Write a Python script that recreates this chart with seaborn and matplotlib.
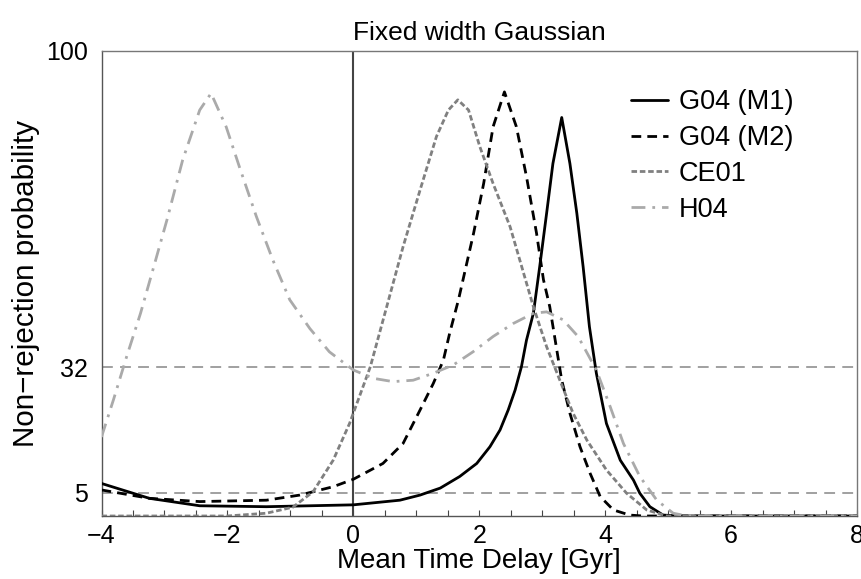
import numpy as np
import pandas as pd
import matplotlib
matplotlib.use("Agg")
import matplotlib.pyplot as plt
import seaborn as sns

# ---- data ----
m1_x = [-4.0, -3.24, -2.44, -1.38, 0.0, 0.74, 1.06, 1.38, 1.69, 1.96, 2.17, 2.33, 2.46, 2.57,
        2.67, 2.75, 2.86, 2.96, 3.07, 3.17, 3.31, 3.44, 3.55, 3.65, 3.75, 3.86, 4.02, 4.24,
        4.45, 4.55, 4.71, 4.92, 5.2, 8.0]
m1_y = [7.0, 3.8, 2.2, 2.0, 2.4, 3.4, 4.5, 6.0, 8.5, 11.3, 14.9, 18.5, 22.8, 27.1,
        32.1, 37.8, 43.6, 53.6, 65.1, 75.8, 85.7, 75.8, 65.1, 53.6, 40.7, 30.7, 19.9, 12.0,
        7.7, 4.9, 2.0, 0.2, 0.0, 0.0]

m2_x = [-4.0, -3.24, -2.44, -1.38, -0.85, -0.32, 0.0, 0.47, 0.79, 1.06, 1.27, 1.43, 1.53,
        1.67, 1.91, 2.07, 2.22, 2.40, 2.59, 2.75, 2.91, 3.02, 3.12, 3.18, 3.31, 3.44, 3.60,
        3.76, 3.92, 4.13, 4.39, 4.6, 8.0]
m2_y = [5.6, 3.8, 3.1, 3.4, 4.5, 6.3, 7.9, 11.3, 15.6, 22.8, 28.5, 33.5, 39.3,
        46.5, 60.8, 71.5, 83.7, 91.2, 83.7, 73.0, 60.8, 50.8, 45.0, 40.0, 29.2, 22.1, 14.9,
        9.2, 4.2, 1.3, 0.2, 0.0, 0.0]

ce_x = [-4.0, -2.0, -1.38, -0.96, -0.64, -0.32, -0.06, 0.27, 0.53, 0.79, 1.06, 1.32, 1.51,
        1.66, 1.83, 2.01, 2.22, 2.49, 2.86, 3.07, 3.28, 3.49, 3.71, 4.02, 4.34, 4.66, 4.98, 8.0]
ce_y = [0.0, 0.0, 0.6, 1.9, 5.2, 12.0, 19.9, 32.1, 45.0, 57.9, 70.1, 81.6, 87.3,
        89.5, 87.3, 79.4, 71.5, 62.2, 45.0, 36.4, 29.2, 22.1, 16.3, 9.9, 4.9, 1.3, 0.0, 0.0]

h04_x = [-4.0, -3.81, -3.60, -3.38, -3.17, -2.96, -2.71, -2.44, -2.26, -2.02, -1.81, -1.54,
         -1.28, -1.01, -0.69, -0.38, 0.0, 0.32, 0.63, 0.95, 1.27, 1.59, 1.90, 2.22, 2.54,
         2.86, 3.07, 3.33, 3.57, 3.86, 4.08, 4.29, 4.55, 4.82, 5.08, 5.3, 8.0]
h04_y = [17.0, 25.0, 34.3, 43.6, 53.6, 63.7, 76.6, 87.3, 90.9, 83.7, 75.1, 64.4,
         55.1, 46.5, 40.3, 35.3, 31.4, 29.6, 28.9, 29.2, 30.7, 32.5, 35.3, 38.6, 41.4,
         43.6, 43.9, 42.2, 38.6, 31.4, 23.5, 15.6, 8.5, 3.4, 0.6, 0.0, 0.0]

labels = ["G04 (M1)", "G04 (M2)", "CE01", "H04"]
ref_levels = [5, 32]
x_ticks = [-4, -2, 0, 2, 4, 6, 8]
y_ticks = [5, 32, 100]

sns.set_theme(style="white")
plt.rcParams['font.family'] = ['Liberation Sans', 'DejaVu Sans']
plt.rcParams['text.color'] = 'black'
plt.rcParams['axes.labelcolor'] = 'black'
plt.rcParams['xtick.labelcolor'] = 'black'
plt.rcParams['ytick.labelcolor'] = 'black'

fig = plt.figure(figsize=(8.61, 5.79), dpi=100)
ax = fig.add_axes([101.5/861, 1-516/579, 755.5/861, 465/579])

for lev in ref_levels:
    ax.axhline(lev, color="#999999", lw=1.3, ls=(0, (6, 4)), zorder=1)
ax.axvline(0, color="#444444", lw=1.5, zorder=1)

series = [
    (m1_x, m1_y, labels[0], "black", "-"),
    (m2_x, m2_y, labels[1], "black", (0, (3.5, 2.2))),
    (ce_x, ce_y, labels[2], "#808080", (0, (2.0, 1.0))),
    (h04_x, h04_y, labels[3], "#aaaaaa", (0, (5, 2.5, 1, 2.5))),
]
for xs, ys, lab, col, ls in series:
    df = pd.DataFrame({"x": xs, "y": ys})
    sns.lineplot(data=df, x="x", y="y", ax=ax, color=col, lw=2, label=lab,
                 sort=False, estimator=None, zorder=3)
    ax.lines[-1].set_linestyle(ls)
    ax.lines[-1].set_solid_joinstyle("round")
    ax.lines[-1].set_dash_joinstyle("round")

ax.set_xlim(-4, 8)
ax.set_ylim(0, 100)
ax.set_xticks(x_ticks)
ax.set_xticklabels([("\u2212" + str(abs(t))) if t < 0 else str(t) for t in x_ticks])
ax.set_xticks(np.arange(-4, 8.01, 0.5), minor=True)
ax.set_yticks(y_ticks)
ax.tick_params(axis="x", which="both", direction="in", length=4, width=0.8,
               color="#444444", labelsize=18, pad=6, bottom=True, labelcolor="black")
ax.tick_params(axis="y", which="both", length=0, labelsize=18, pad=10, labelcolor="black")
for s in ax.spines.values():
    s.set_color("#777777")
    s.set_linewidth(1.0)
ax.spines["left"].set_color("#555555")
ax.spines["bottom"].set_color("#555555")

ax.set_xlabel("Mean Time Delay [Gyr]", fontsize=20, labelpad=0, color="black")
ax.set_ylabel("Non\u2212rejection probability", fontsize=21.3, labelpad=4, color="black")
ax.set_title("Fixed width Gaussian", fontsize=19, pad=8, color="black")

leg = ax.legend(loc="upper left", bbox_to_anchor=(0.669, 0.97), frameon=False,
                fontsize=19.5, handlelength=1.35, handletextpad=0.4, labelspacing=0.36)
for t in leg.get_texts():
    t.set_color("black")
for h, (_, _, _, col, ls) in zip(leg.get_lines(), series):
    h.set_linestyle(ls)
    h.set_color(col)

fig.savefig("out.png", dpi=100)
